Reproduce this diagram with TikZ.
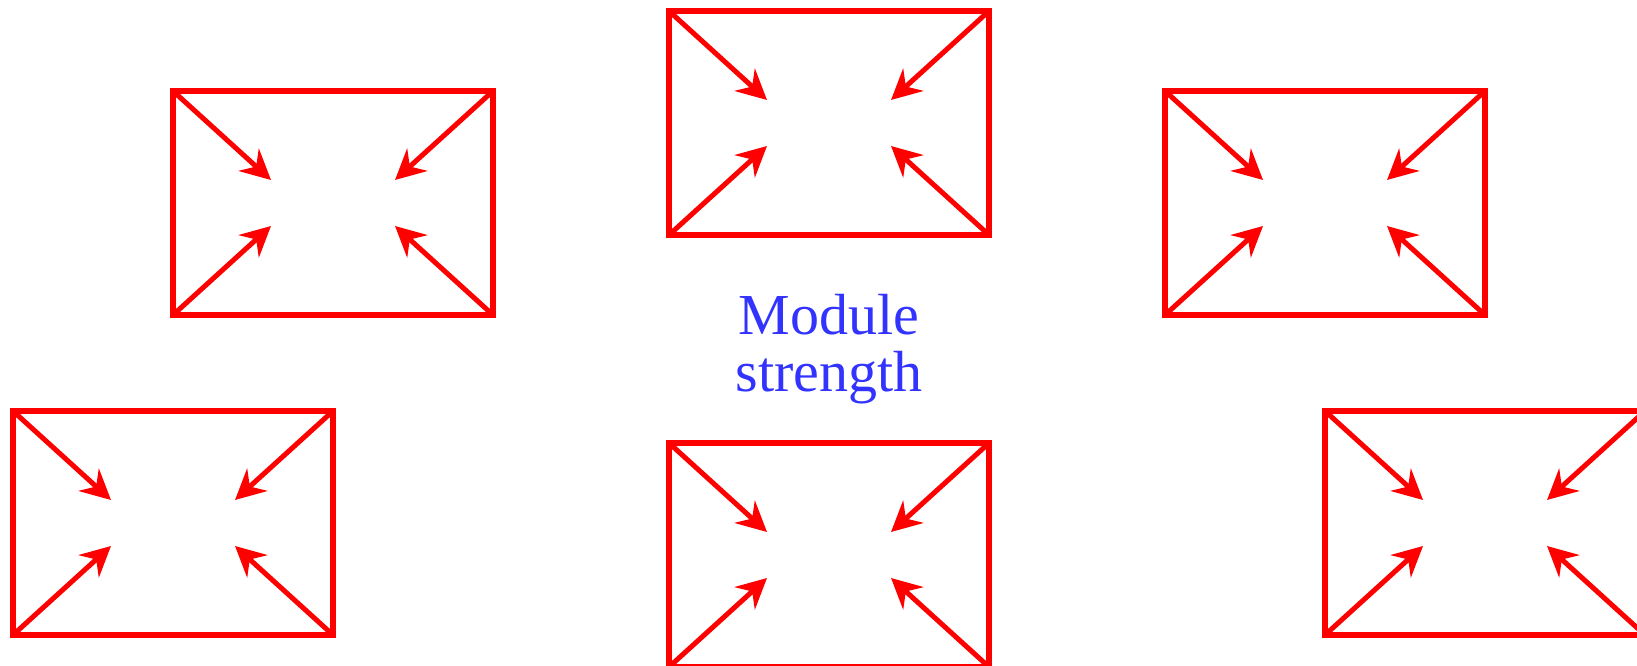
\documentclass[tikz,border=0pt]{standalone}
\usepackage{fontspec}
\setmainfont{Liberation Serif}
\usetikzlibrary{arrows.meta,calc}
\definecolor{boxred}{RGB}{255,0,0}
\definecolor{labelblue}{RGB}{51,51,255}
\begin{document}
\begin{tikzpicture}[x=1pt,y=-1pt,
  modbox/.style={draw=boxred,line width=6pt,rectangle,minimum width=320pt,minimum height=224pt,inner sep=0pt,outer sep=0pt},
  inarrow/.style={draw=boxred,line width=5pt,-{Stealth[length=30pt,width=30pt,inset=10pt]}},
  label/.style={text=labelblue,font=\fontsize{58}{57}\selectfont,align=center,inner sep=0pt}]
\useasboundingbox (0,0) rectangle (1637,666);
\node[modbox] (b1) at (333,203) {};
\node[modbox] (b2) at (829,123) {};
\node[modbox] (b3) at (1325,203) {};
\node[modbox] (b4) at (829,555) {};
\node[modbox] (b5) at (173,523) {};
\node[modbox] (b6) at (1485,523) {};
\foreach \b in {b1,b2,b3,b4,b5,b6}{
  \coordinate (\b-tl) at ($(\b)+(-62,-23)$);
  \coordinate (\b-tr) at ($(\b)+(62,-23)$);
  \coordinate (\b-bl) at ($(\b)+(-62,23)$);
  \coordinate (\b-br) at ($(\b)+(62,23)$);
  \draw[inarrow] (\b.north west) -- (\b-tl);
  \draw[inarrow] (\b.north east) -- (\b-tr);
  \draw[inarrow] (\b.south west) -- (\b-bl);
  \draw[inarrow] (\b.south east) -- (\b-br);
}
\node[label,anchor=base] (lab) at (829,391) {Module\\strength};
\end{tikzpicture}
\end{document}
